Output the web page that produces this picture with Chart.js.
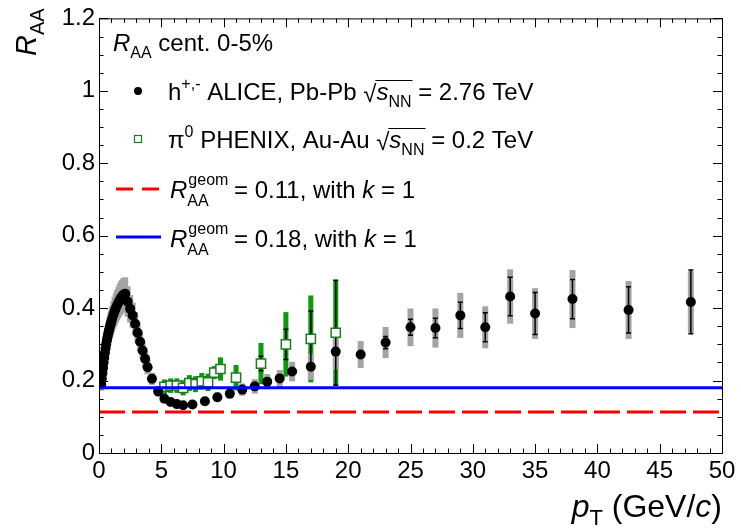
<!DOCTYPE html>
<html>
<head>
<meta charset="utf-8">
<script src="https://cdn.jsdelivr.net/npm/chart.js@4.4.1/dist/chart.umd.min.js"></script>
<style>
  body { margin: 0; background: #fff; }
  #raaChart { display: block; }
</style>
</head>
<body>
<canvas id="raaChart" width="741" height="528"></canvas>
<script>
// ALICE charged hadrons, Pb-Pb 2.76 TeV, 0-5%
const alicePt = [0.175, 0.225, 0.275, 0.325, 0.375, 0.425, 0.475, 0.525, 0.575, 0.625, 0.675, 0.725, 0.775, 0.825, 0.875, 0.925, 0.975,
    1.05, 1.15, 1.25, 1.35, 1.45, 1.55, 1.65, 1.75, 1.85, 1.95,
    2.1, 2.3, 2.5, 2.7, 2.9, 3.1, 3.3, 3.5, 3.7, 3.9,
    4.25, 4.75, 5.25, 5.75, 6.25, 6.75, 7.5,
    8.5, 9.5, 10.5, 11.5, 12.5, 13.5, 14.5, 15.5,
    17, 19, 21, 23, 25, 27, 29, 31, 33, 35, 38, 42.5, 47.5];
const aliceRaa = [0.19, 0.205, 0.22, 0.235, 0.25, 0.264, 0.277, 0.289, 0.30, 0.31, 0.319, 0.327, 0.335, 0.342, 0.349, 0.355, 0.361,
    0.37, 0.381, 0.391, 0.40, 0.408, 0.415, 0.422, 0.428, 0.433, 0.437,
    0.44, 0.418, 0.398, 0.38, 0.357, 0.332, 0.307, 0.283, 0.26, 0.237,
    0.205, 0.17, 0.15, 0.141, 0.135, 0.132, 0.134,
    0.143, 0.154, 0.164, 0.175, 0.184, 0.197, 0.206, 0.225,
    0.238, 0.28, 0.272, 0.305, 0.347, 0.345, 0.38, 0.347, 0.432, 0.385, 0.425, 0.395, 0.417];
const aliceStat = [0.001, 0.001, 0.001, 0.001, 0.001, 0.001, 0.001, 0.001, 0.001, 0.001, 0.001, 0.001, 0.001, 0.001, 0.001, 0.001, 0.001,
    0.001, 0.001, 0.001, 0.001, 0.001, 0.001, 0.001, 0.001, 0.001, 0.001,
    0.001, 0.001, 0.001, 0.001, 0.001, 0.001, 0.001, 0.001, 0.001, 0.001,
    0.002, 0.002, 0.002, 0.002, 0.002, 0.002, 0.002,
    0.003, 0.003, 0.004, 0.004, 0.005, 0.005, 0.006, 0.006,
    0.008, 0.012, 0.012, 0.017, 0.022, 0.027, 0.036, 0.04, 0.053, 0.058, 0.054, 0.064, 0.088];
const aliceSyst = [0.018, 0.019, 0.02, 0.021, 0.022, 0.023, 0.024, 0.025, 0.026, 0.027, 0.028, 0.029, 0.03, 0.031, 0.032, 0.033, 0.034,
    0.036, 0.038, 0.04, 0.041, 0.042, 0.043, 0.044, 0.045, 0.045, 0.046,
    0.045, 0.042, 0.038, 0.035, 0.032, 0.029, 0.026, 0.024, 0.022, 0.02,
    0.017, 0.014, 0.012, 0.011, 0.011, 0.011, 0.011,
    0.012, 0.013, 0.014, 0.017, 0.02, 0.021, 0.023, 0.027,
    0.036, 0.05, 0.037, 0.043, 0.052, 0.054, 0.062, 0.058, 0.075, 0.07, 0.08, 0.08, 0.085];

// PHENIX pi0, Au-Au 0.2 TeV
const phenixPt = [5.25, 5.75, 6.25, 6.75, 7.25, 7.75, 8.25, 8.75, 9.25, 9.75, 11, 13, 15, 17, 19];
const phenixRaa = [0.183, 0.186, 0.186, 0.18, 0.193, 0.19, 0.198, 0.195, 0.222, 0.232, 0.208, 0.247, 0.30, 0.315, 0.332];
const phenixStat = [0.004, 0.004, 0.005, 0.005, 0.006, 0.007, 0.008, 0.009, 0.01, 0.012, 0.012, 0.02, 0.042, 0.077, 0.145];
const phenixSyst = [0.02, 0.02, 0.02, 0.021, 0.022, 0.022, 0.023, 0.024, 0.018, 0.032, 0.035, 0.057, 0.089, 0.12, 0.145];

// geometric limits
const geomLow = 0.113;
const geomHigh = 0.18;

const xTickValues = [0, 5, 10, 15, 20, 25, 30, 35, 40, 45, 50];
const yTickValues = [0, 0.2, 0.4, 0.6, 0.8, 1, 1.2];

const FONT = '"Liberation Sans", Arial, Helvetica, sans-serif';
const GREY = '#a3a3a3';
const GREEN = '#0a9a0a';
const GREEN_DARK = '#1e7a1e';

function toPoints(xs, ys) {
    return xs.map((x, i) => ({ x: x, y: ys[i] }));
}

// draws a run of text pieces, returns end x
function rich(ctx, x, y, parts) {
    parts.forEach(p => {
        ctx.font = (p.it ? 'italic ' : '') + (p.sz || 24) + 'px ' + FONT;
        ctx.fillText(p.t, x + (p.dx || 0), y + (p.dy || 0));
        if (!p.noAdvance) x += ctx.measureText(p.t).width + (p.dx || 0);
    });
    return x;
}

function richWidth(ctx, parts) {
    let w = 0;
    parts.forEach(p => {
        ctx.font = (p.it ? 'italic ' : '') + (p.sz || 24) + 'px ' + FONT;
        if (!p.noAdvance) w += ctx.measureText(p.t).width + (p.dx || 0);
    });
    return w;
}

// sqrt(s_NN) with an overline
function sqrtS(ctx, x, y) {
    ctx.font = '24px ' + FONT;
    ctx.fillText('\u221A', x, y + 2);
    const rw = ctx.measureText('\u221A').width;
    const xe = rich(ctx, x + rw, y, [{ t: 's', it: true }, { t: 'NN', sz: 16, dy: 7 }]);
    ctx.beginPath();
    ctx.lineWidth = 1.2;
    ctx.moveTo(x + rw - 1, y - 19.5);
    ctx.lineTo(xe + 1, y - 19.5);
    ctx.stroke();
    return xe;
}

function drawErrors(chart, xs, ys, syst, boxColor, boxW) {
    const ctx = chart.ctx;
    const xs_ = chart.scales.x, ys_ = chart.scales.y;
    ctx.fillStyle = boxColor;
    xs.forEach((x, i) => {
        const px = xs_.getPixelForValue(x);
        const top = ys_.getPixelForValue(ys[i] + syst[i]);
        const bot = ys_.getPixelForValue(ys[i] - syst[i]);
        ctx.fillRect(px - boxW / 2, top, boxW, bot - top);
    });
}

function drawStat(chart, xs, ys, stat, r) {
    const ctx = chart.ctx;
    const xs_ = chart.scales.x, ys_ = chart.scales.y;
    ctx.strokeStyle = '#000';
    ctx.lineWidth = 1.5;
    xs.forEach((x, i) => {
        const px = xs_.getPixelForValue(x);
        const top = ys_.getPixelForValue(ys[i] + stat[i]);
        const bot = ys_.getPixelForValue(ys[i] - stat[i]);
        if ((bot - top) / 2 <= r + 1) return;
        ctx.beginPath();
        ctx.moveTo(px, top); ctx.lineTo(px, bot);
        ctx.moveTo(px - 2.5, top); ctx.lineTo(px + 2.5, top);
        ctx.moveTo(px - 2.5, bot); ctx.lineTo(px + 2.5, bot);
        ctx.stroke();
    });
}

const errorPlugin = {
    id: 'errorPlugin',
    beforeDatasetsDraw(chart) {
        const ctx = chart.ctx, a = chart.chartArea;
        ctx.save();
        ctx.beginPath();
        ctx.rect(a.left, a.top, a.right - a.left, a.bottom - a.top);
        ctx.clip();
        drawErrors(chart, phenixPt, phenixRaa, phenixSyst, GREEN, 5);
        drawErrors(chart, alicePt, aliceRaa, aliceSyst, GREY, 6);
        drawStat(chart, phenixPt, phenixRaa, phenixStat, 5);
        drawStat(chart, alicePt, aliceRaa, aliceStat, 5);
        ctx.restore();
    }
};

const framePlugin = {
    id: 'framePlugin',
    afterDraw(chart) {
        const ctx = chart.ctx, a = chart.chartArea;
        const sx = chart.scales.x, sy = chart.scales.y;
        ctx.save();
        ctx.strokeStyle = '#000';
        ctx.lineWidth = 1;
        ctx.strokeRect(a.left + 0.5, a.top + 0.5, a.right - a.left, a.bottom - a.top);
        ctx.beginPath();
        // x ticks, every 1 GeV, long every 5
        for (let v = 0; v <= 50; v += 1) {
            const px = Math.round(sx.getPixelForValue(v)) + 0.5;
            const len = v % 5 === 0 ? 9 : 4.5;
            ctx.moveTo(px, a.bottom); ctx.lineTo(px, a.bottom - len);
            ctx.moveTo(px, a.top); ctx.lineTo(px, a.top + len);
        }
        // y ticks, every 0.05, long every 0.2
        for (let k = 0; k <= 24; k++) {
            const py = Math.round(sy.getPixelForValue(k * 0.05)) + 0.5;
            const len = k % 4 === 0 ? 9 : 4.5;
            ctx.moveTo(a.left, py); ctx.lineTo(a.left + len, py);
            ctx.moveTo(a.right, py); ctx.lineTo(a.right - len, py);
        }
        ctx.stroke();

        // axis titles
        ctx.fillStyle = '#000';
        ctx.textBaseline = 'alphabetic';
        const xTitle = [{ t: 'p', it: true, sz: 32 }, { t: 'T', sz: 22, dy: 8 }, { t: ' (GeV/', sz: 32 }, { t: 'c', it: true, sz: 32 }, { t: ')', sz: 32 }];
        rich(ctx, 722 - richWidth(ctx, xTitle), 517, xTitle);
        ctx.save();
        ctx.translate(36, 56);
        ctx.rotate(-Math.PI / 2);
        rich(ctx, 0, 0, [{ t: 'R', it: true, sz: 29 }, { t: 'AA', sz: 20, dy: 8 }]);
        ctx.restore();

        // legend
        rich(ctx, 113, 51, [{ t: 'R', it: true }, { t: 'AA', sz: 16, dy: 7 }, { t: ' cent. 0-5%' }]);

        ctx.beginPath();
        ctx.arc(138, 91, 4, 0, Math.PI * 2);
        ctx.fill();
        let xe = rich(ctx, 168, 100, [{ t: 'h' }, { t: '+,-', sz: 16, dy: -11 }, { t: ' ALICE, Pb-Pb ' }]);
        xe = sqrtS(ctx, xe, 100);
        rich(ctx, xe, 100, [{ t: ' = 2.76 TeV' }]);

        ctx.fillStyle = '#fff';
        ctx.fillRect(134.5, 135.5, 7, 7);
        ctx.strokeStyle = GREEN_DARK;
        ctx.lineWidth = 1.2;
        ctx.strokeRect(134.5, 135.5, 7, 7);
        ctx.fillStyle = '#000';
        ctx.strokeStyle = '#000';
        xe = rich(ctx, 168, 148, [{ t: '\u03C0' }, { t: '0', sz: 16, dy: -11 }, { t: ' PHENIX, Au-Au ' }]);
        xe = sqrtS(ctx, xe, 148);
        rich(ctx, xe, 148, [{ t: ' = 0.2 TeV' }]);

        ctx.lineWidth = 3;
        ctx.strokeStyle = '#ff0000';
        ctx.setLineDash([17, 9]);
        ctx.beginPath();
        ctx.moveTo(116, 189); ctx.lineTo(161, 189);
        ctx.stroke();
        ctx.setLineDash([]);
        ctx.strokeStyle = '#0000ff';
        ctx.beginPath();
        ctx.moveTo(116, 237); ctx.lineTo(161, 237);
        ctx.stroke();

        [[198, '0.11'], [247, '0.18']].forEach(([by, val]) => {
            rich(ctx, 170, by, [{ t: 'R', it: true }, { t: 'geom', sz: 16, dy: -13, dx: 1, noAdvance: true }, { t: 'AA', sz: 16, dy: 8 }]);
            ctx.font = '16px ' + FONT;
            const w = Math.max(ctx.measureText('geom').width, ctx.measureText('AA').width);
            ctx.font = 'italic 24px ' + FONT;
            const x0 = 170 + ctx.measureText('R').width + w;
            rich(ctx, x0, by, [{ t: ' = ' + val + ', with ' }, { t: 'k', it: true }, { t: ' = 1' }]);
        });
        ctx.restore();
    }
};

const ctx = document.getElementById('raaChart').getContext('2d');
const raaChart = new Chart(ctx, {
    type: 'scatter',
    data: {
        datasets: [
            {
                label: 'geom 0.18',
                data: [{ x: 0, y: geomHigh }, { x: 50, y: geomHigh }],
                showLine: true,
                borderColor: '#0000ff',
                borderWidth: 3,
                pointRadius: 0
            },
            {
                label: 'geom 0.11',
                data: [{ x: 0, y: geomLow }, { x: 50, y: geomLow }],
                showLine: true,
                borderColor: '#ff0000',
                borderWidth: 3,
                borderDash: [26, 7],
                pointRadius: 0
            },
            {
                label: 'ALICE',
                data: toPoints(alicePt, aliceRaa),
                backgroundColor: '#000',
                borderColor: '#000',
                borderWidth: 0,
                pointRadius: 5
            },
            {
                label: 'PHENIX',
                data: toPoints(phenixPt, phenixRaa),
                pointStyle: 'rect',
                backgroundColor: '#fff',
                borderColor: GREEN_DARK,
                borderWidth: 1.5,
                pointRadius: 6.5
            }
        ]
    },
    options: {
        responsive: false,
        animation: false,
        layout: { padding: { top: 15, right: 19, left: 0, bottom: 0 } },
        plugins: {
            legend: { display: false },
            tooltip: { enabled: false }
        },
        scales: {
            x: {
                type: 'linear',
                min: 0,
                max: 50,
                afterFit: s => { s.height = 75; },
                afterBuildTicks: s => { s.ticks = xTickValues.map(v => ({ value: v })); },
                grid: { display: false, drawTicks: false },
                border: { display: false },
                ticks: {
                    color: '#000',
                    font: { family: FONT, size: 24 },
                    padding: 4,
                    maxRotation: 0,
                    autoSkip: false
                }
            },
            y: {
                type: 'linear',
                min: 0,
                max: 1.2,
                afterFit: s => { s.width = 99; },
                afterBuildTicks: s => { s.ticks = yTickValues.map(v => ({ value: v })); },
                grid: { display: false, drawTicks: false },
                border: { display: false },
                ticks: {
                    color: '#000',
                    font: { family: FONT, size: 24 },
                    padding: 4,
                    callback: v => String(Math.round(v * 10) / 10)
                }
            }
        }
    },
    plugins: [errorPlugin, framePlugin]
});
</script>
</body>
</html>
